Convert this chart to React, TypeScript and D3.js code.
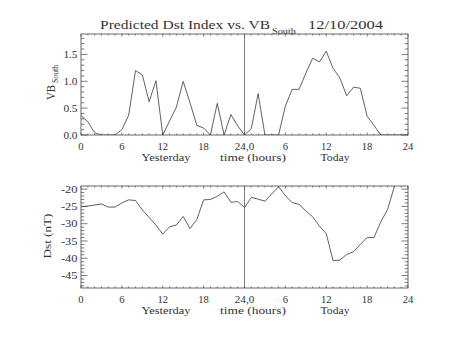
import React from "react";
import * as d3 from "d3";

const hours = d3.range(0, 49);
const vbSouth = [
  0.36, 0.25, 0.04, 0, 0, 0, 0.1, 0.37, 1.2, 1.12, 0.62, 1.01, 0,
  0.26, 0.52, 1.0, 0.6, 0.18, 0.13, 0, 0.59, 0, 0.38, 0.17, 0,
  0.12, 0.77, 0, 0, 0, 0.54, 0.85, 0.85, 1.15, 1.43, 1.36, 1.56,
  1.24, 1.06, 0.73, 0.89, 0.87, 0.35, 0.18, 0, 0, 0, 0, 0,
];
const dstHours = d3.range(0, 47);
const dst = [
  -25.1, -24.9, -24.6, -24.3, -25.2, -25.2, -24.0, -23.1, -23.3, -26.0,
  -28.2, -30.4, -33.0, -30.9, -30.4, -27.9, -31.4, -28.8, -23.1, -23.0,
  -22.1, -20.8, -23.8, -23.6, -25.3, -22.4, -22.9, -23.5, -21.4, -19.3,
  -21.9, -23.9, -24.4, -26.3, -28.0, -30.7, -32.9, -40.7, -40.5, -38.9,
  -38.1, -36.0, -34.0, -34.0, -29.5, -25.9, -19.2,
];
const xTickValues = [0, 6, 12, 18, 24, 30, 36, 42, 48];
const xTickLabels = ["0", "6", "12", "18", "24,0", "6", "12", "18", "24"];
const vbTicks = [0, 0.5, 1.0, 1.5];
const dstTicks = [-45, -40, -35, -30, -25, -20];

const FONT = "'Liberation Serif', 'DejaVu Serif', serif";
const INK = "#333";
const LINE = "#444";

function labelWidth(s: string): number {
  let w = 0;
  for (const c of s) {
    if (c === "." || c === ",") w += 3.5;
    else if (c === "-") w += 6;
    else w += 5.3;
  }
  return w;
}

type PanelProps = {
  top: number;
  bottom: number;
  yDomain: [number, number];
  yTicks: number[];
  yMinorStep: number;
  fmt: (v: number) => string;
  xs: number[];
  ys: number[];
  yTitle: React.ReactNode;
};

const x = d3.scaleLinear().domain([0, 48]).range([81, 408]);

function Panel({ top, bottom, yDomain, yTicks, yMinorStep, fmt, xs, ys, yTitle }: PanelProps) {
  const y = d3.scaleLinear().domain(yDomain).range([bottom, top]);
  const line = d3
    .line<number>()
    .x((_, i) => x(xs[i]))
    .y((d) => y(d));
  const [x0, x1] = x.range();
  const minorY: number[] = [];
  const start = Math.ceil(yDomain[0] / yMinorStep - 1e-6);
  const end = Math.floor(yDomain[1] / yMinorStep + 1e-6);
  for (let k = start; k <= end; k++) minorY.push(+(k * yMinorStep).toFixed(4));
  const minorX = d3.range(0, 49);
  const majL = 6.5, minL = 3.3, xMaj = 2.5, xMin = 1.5;
  return (
    <g>
      <defs>
        <clipPath id={`clip${top}`}>
          <rect x={x0} y={top} width={x1 - x0} height={bottom - top} />
        </clipPath>
      </defs>
      <rect x={x0} y={top} width={x1 - x0} height={bottom - top} fill="none" stroke={LINE} strokeWidth={0.8} />
      {minorY.map((v) => {
        const isMaj = yTicks.some((t) => Math.abs(t - v) < 1e-6);
        const L = isMaj ? majL : minL;
        return (
          <g key={"my" + v}>
            <line x1={x0} x2={x0 + L} y1={y(v)} y2={y(v)} stroke={LINE} strokeWidth={0.7} />
            <line x1={x1} x2={x1 - L} y1={y(v)} y2={y(v)} stroke={LINE} strokeWidth={0.7} />
          </g>
        );
      })}
      {minorX.map((v) => {
        const L = v % 6 === 0 ? xMaj : xMin;
        return (
          <g key={"mx" + v}>
            <line x1={x(v)} x2={x(v)} y1={bottom} y2={bottom - L} stroke={LINE} strokeWidth={0.7} />
            <line x1={x(v)} x2={x(v)} y1={top} y2={top + L} stroke={LINE} strokeWidth={0.7} />
          </g>
        );
      })}
      <line x1={x(24)} x2={x(24)} y1={top} y2={bottom} stroke={LINE} strokeWidth={0.7} />
      <path d={line(ys) || ""} fill="none" stroke={LINE} strokeWidth={0.85} clipPath={`url(#clip${top})`} />
      {yTicks.map((t) => (
        <text
          key={"yl" + t}
          x={77.5}
          y={y(t) + 3.6}
          textAnchor="end"
          fontSize={10.5}
          fontFamily={FONT}
          fill={INK}
          textLength={labelWidth(fmt(t))}
          lengthAdjust="spacingAndGlyphs"
        >
          {fmt(t)}
        </text>
      ))}
      {xTickValues.map((t, i) => (
        <text
          key={"xl" + i}
          x={x(t)}
          y={bottom + 14.5}
          textAnchor="middle"
          fontSize={10.5}
          fontFamily={FONT}
          fill={INK}
          textLength={labelWidth(xTickLabels[i])}
          lengthAdjust="spacingAndGlyphs"
        >
          {xTickLabels[i]}
        </text>
      ))}
      <text x={166} y={bottom + 26} textAnchor="middle" fontSize={10.5} fontFamily={FONT} fill={INK} textLength={49} lengthAdjust="spacingAndGlyphs">
        Yesterday
      </text>
      <text x={253} y={bottom + 26} textAnchor="middle" fontSize={10.5} fontFamily={FONT} fill={INK} textLength={66} lengthAdjust="spacingAndGlyphs">
        time (hours)
      </text>
      <text x={335} y={bottom + 26} textAnchor="middle" fontSize={10.5} fontFamily={FONT} fill={INK} textLength={29} lengthAdjust="spacingAndGlyphs">
        Today
      </text>
      {yTitle}
    </g>
  );
}

export default function App() {
  return (
    <svg
      width={453}
      height={340}
      style={{ position: "absolute", left: 0, top: 0, display: "block", background: "#fff" }}
    >
      <rect width={453} height={340} fill="#fff" />
      <text x={100} y={29} fontSize={12} fontFamily={FONT} fill={INK} textLength={170} lengthAdjust="spacingAndGlyphs">
        Predicted Dst Index vs. VB
      </text>
      <text x={272} y={34} fontSize={8} fontFamily={FONT} fill={INK} textLength={24} lengthAdjust="spacingAndGlyphs">
        South
      </text>
      <text x={308} y={29} fontSize={12} fontFamily={FONT} fill={INK} textLength={75} lengthAdjust="spacingAndGlyphs">
        12/10/2004
      </text>
      <Panel
        top={34}
        bottom={135}
        yDomain={[0, 1.88]}
        yTicks={vbTicks}
        yMinorStep={0.1}
        fmt={(v) => v.toFixed(1)}
        xs={hours}
        ys={vbSouth}
        yTitle={
          <g transform="translate(55,100) rotate(-90)">
            <text x={0} y={0} fontSize={11.5} fontFamily={FONT} fill={INK} textLength={15} lengthAdjust="spacingAndGlyphs">
              VB
            </text>
            <text x={17} y={3} fontSize={7.5} fontFamily={FONT} fill={INK} textLength={18} lengthAdjust="spacingAndGlyphs">
              South
            </text>
          </g>
        }
      />
      <Panel
        top={186}
        bottom={288}
        yDomain={[-48.6, -19.1]}
        yTicks={dstTicks}
        yMinorStep={1}
        fmt={(v) => String(v)}
        xs={dstHours}
        ys={dst}
        yTitle={
          <text
            transform="translate(51,236) rotate(-90)"
            textAnchor="middle"
            fontSize={10.5}
            fontFamily={FONT}
            fill={INK}
            textLength={45}
            lengthAdjust="spacingAndGlyphs"
          >
            Dst (nT)
          </text>
        }
      />
    </svg>
  );
}
